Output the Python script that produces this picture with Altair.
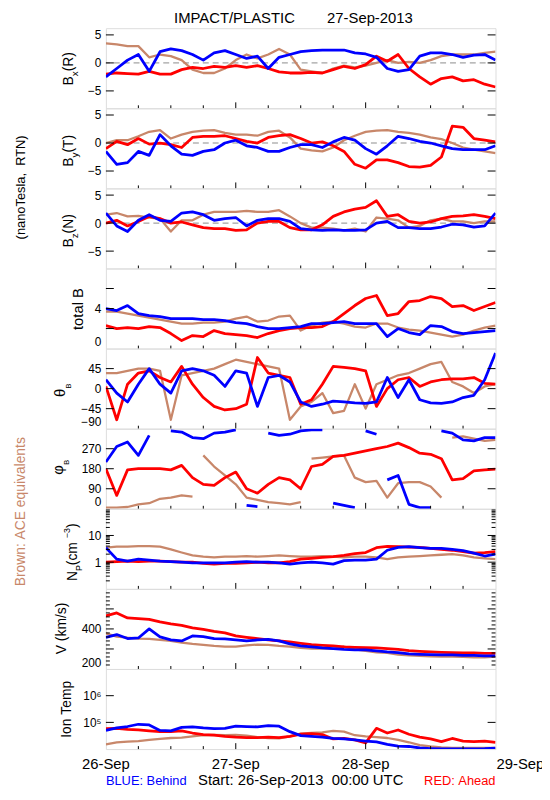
import json
import altair as alt
import pandas as pd

# ---------------- data (2-hour steps, hours since 26-Sep-2013 00:00 UTC) ----------------
HOURS = list(range(0, 73, 2))
X_LABEL_HOURS = [0, 24, 48, 72]
X_LABELS = ["26-Sep", "27-Sep", "28-Sep", "29-Sep"]

bx_blue = [-2.5, -1.0, 0.5, 1.5, -1.5, 2.0, 2.5, 2.2, 1.5, 0.5, 1.8, 2.2, 1.5, 0.8, 1.2, -1.0, 1.0, 1.5, 2.0,
           2.2, 2.3, 2.3, 2.3, 1.8, 1.6, 1.0, -1.0, -1.5, -1.2, 1.2, 1.8, 1.8, 1.5, 1.0, 1.4, 1.5, 0.5]
bx_red = [-2.0, -1.8, -1.9, -2.0, -1.5, -2.0, -2.0, -1.2, -0.8, -1.0, -0.6, -0.8, -0.5, -0.8, -0.5, -1.0, -1.6,
          -1.8, -1.8, -1.7, -1.8, -1.2, -0.6, -1.0, -0.3, 1.2, 0.3, 1.5, -1.0, -2.5, -3.8, -2.8, -2.5, -3.2, -3.0,
          -3.8, -4.3]
bx_ace = [3.5, 3.3, 3.0, 3.0, 1.0, 1.5, 1.2, 0.5, -1.2, -1.8, -1.8, -1.0, 0.5, 1.5, 0.8, 1.5, 2.5, 1.5, -1.2,
          -1.5, -1.8, -1.0, -0.5, -0.8, -0.5, 0.0, 0.5, 0.0, 0.2, 0.0, 0.5, 1.2, 1.5, 1.5, 1.5, 1.8, 2.0]

by_blue = [-1.5, -3.8, -3.5, -1.5, -2.2, 1.5, -0.5, -2.0, -2.2, -1.5, -1.2, 0.0, 0.5, -0.5, -0.8, -1.5, -1.5,
           -0.8, -0.3, -0.3, -0.8, 0.2, 1.0, 0.5, -1.0, -2.0, -0.5, 1.2, 0.8, 0.3, 0.0, -0.5, -1.0, -1.2, -1.2,
           -1.2, -0.5]
by_red = [-1.0, 0.3, -0.3, 0.8, -0.2, 0.0, -0.3, -0.8, 1.0, 1.2, 1.2, 1.3, 0.8, 0.3, 0.0, 1.0, 1.3, 1.5, 0.8,
          0.0, 0.2, -0.5, -1.5, -3.8, -4.5, -3.0, -3.0, -3.5, -4.2, -4.3, -4.0, -2.5, 3.0, 2.8, 0.8, 0.5, 0.2]
by_ace = [0.0, 0.5, 0.5, 1.2, 2.0, 2.3, 0.8, 1.5, 2.0, 2.2, 2.3, 1.8, 1.5, 1.5, 1.3, 2.0, 2.2, 1.0, -1.0, -1.3,
          -1.5, -0.8, 0.5, 1.3, 2.0, 2.2, 2.3, 2.0, 1.8, 1.5, 1.0, 0.7, 0.0, -0.8, -1.2, -1.5, -1.8]

bz_blue = [1.8, -0.5, -1.5, 0.5, 1.5, 0.5, 0.3, 1.8, 2.0, 1.5, 0.5, 0.8, 1.0, -0.5, 0.5, 0.8, 0.8, 0.3, -1.0,
           -1.2, -1.3, -1.2, -1.3, -1.3, -1.2, 0.0, 0.3, -0.8, -0.8, -1.0, -1.0, -0.7, -0.2, -0.3, -0.7, -0.5, 1.8]
bz_red = [0.0, 0.5, -0.5, 0.3, 1.2, 0.8, 0.0, 0.2, -0.3, -0.8, -1.0, -1.0, -1.3, -1.2, 0.0, 0.3, 0.3, -0.8, -1.2,
          -1.2, -0.3, 1.2, 2.0, 2.5, 2.8, 4.0, 1.2, 1.5, 0.3, 0.0, 0.2, 0.8, 1.2, 1.3, 1.5, 1.2, 0.8]
bz_ace = [1.5, 1.8, 1.2, 1.3, 1.0, 0.8, -1.5, 0.5, 0.5, 1.5, 2.0, 2.0, 2.0, 2.2, 2.0, 2.0, 2.3, 1.2, 0.0, -0.8,
          -0.8, -1.0, -1.3, -1.0, -1.5, 1.0, 0.8, 0.5, -0.8, -0.5, 0.5, 0.8, 0.3, 0.3, 0.0, 0.3, 0.3]

bt_blue = [4.0, 3.8, 4.3, 3.5, 3.3, 3.2, 3.0, 3.0, 3.0, 2.9, 2.9, 2.8, 2.6, 2.5, 2.2, 2.0, 2.0, 2.1, 2.2, 2.5,
           2.5, 2.6, 2.7, 2.5, 2.5, 2.5, 1.2, 2.0, 1.6, 1.4, 2.3, 2.2, 1.7, 1.5, 1.6, 1.7, 1.8]
bt_red = [2.3, 2.0, 2.1, 2.0, 2.2, 2.1, 1.5, 0.8, 1.3, 1.2, 1.8, 1.5, 1.4, 1.3, 1.1, 1.5, 1.8, 2.0, 2.1, 2.1,
          2.2, 2.7, 3.5, 4.3, 5.0, 5.3, 3.3, 3.5, 4.7, 4.8, 5.2, 5.0, 4.2, 4.3, 3.8, 4.2, 4.6]
bt_ace = [3.7, 3.7, 3.5, 3.3, 3.1, 2.9, 2.7, 2.5, 2.5, 2.6, 2.6, 2.7, 3.0, 3.2, 2.7, 2.8, 3.2, 3.3, 1.8, 2.3,
          2.6, 2.7, 2.5, 2.2, 2.1, 2.5, 2.5, 2.1, 1.9, 1.8, 1.6, 1.4, 1.2, 1.4, 1.8, 2.1, 2.3]

th_blue = [20, -10, -30, 10, 45, 10, -10, 40, 45, 40, 30, 5, 40, 35, -40, 25, 30, 15, -30, -40, -35, -28, -30,
           -32, -33, -30, 25, -20, 20, -25, -32, -33, -30, -20, -15, 20, 80]
th_red = [5, -70, 10, 35, 40, 25, 15, 50, 10, -20, -40, -48, -45, -35, 70, 35, 30, 25, -35, -25, 10, 50, 48, 45,
          40, -40, 0, 20, 25, 5, 15, 20, 22, 22, 25, 12, 10]
th_ace = [35, 35, 40, 45, 45, 40, -70, 30, 35, 40, 45, 55, 65, 60, 55, 50, 45, -70, -40, -30, -10, -55, -50, 10,
          -45, 10, 20, 30, 35, 45, 55, 60, 15, 5, -10, 5, 10]

ph_blue = [210, 280, 300, 240, 330, 10, 350, 345, 320, 315, 340, 345, 355, 15, 10, 340, 330, 335, 350, 355, 355,
           25, 15, 5, 350, 335, 130, 150, 20, 5, 5, 350, 340, 310, 305, 320, 320]
ph_red = [180, 60, 175, 180, 180, 180, 175, 195, 140, 110, 105, 140, 165, 90, 70, 110, 140, 130, 90, 190, 200,
          235, 240, 250, 260, 270, 280, 295, 275, 250, 245, 225, 130, 135, 170, 175, 178]
ph_ace = [5, 5, 8, 20, 25, 45, 50, 60, 55, 240, 190, 150, 110, 50, 40, 30, 25, 20, 30, 225, 230, 235, 240, 140,
          120, 125, 50, 115, 120, 120, 100, 50, 320, 325, 315, 305, 310]

np_blue = [3.5, 1.3, 1.1, 1.3, 1.2, 1.1, 1.05, 1.0, 0.95, 0.95, 0.95, 0.95, 1.0, 1.05, 1.0, 1.0, 0.95, 0.85, 0.95,
           1.0, 0.95, 0.85, 1.15, 1.2, 1.2, 1.3, 2.8, 3.6, 3.8, 3.5, 3.3, 3.3, 3.0, 2.7, 2.2, 1.7, 2.0]
np_red = [1.0, 1.05, 1.1, 1.05, 1.1, 1.1, 1.05, 1.0, 1.0, 0.9, 0.85, 0.9, 0.9, 0.95, 1.0, 0.95, 0.95, 1.05, 1.3,
          1.4, 1.5, 1.6, 1.8, 2.1, 2.3, 3.5, 3.9, 3.8, 3.7, 3.6, 3.3, 3.0, 2.8, 2.5, 2.2, 2.3, 2.5]
np_ace = [3.5, 3.8, 3.8, 4.0, 4.0, 3.8, 3.0, 2.3, 1.8, 1.6, 1.5, 1.6, 1.6, 1.7, 1.6, 1.7, 1.8, 1.7, 1.6, 1.6,
          1.7, 1.6, 1.5, 1.6, 1.6, 1.5, 1.3, 1.5, 1.6, 1.7, 1.8, 1.9, 2.0, 1.8, 1.5, 1.4, 1.3]

v_blue = [358, 372, 352, 355, 400, 360, 345, 340, 365, 362, 352, 350, 345, 340, 345, 348, 340, 325, 315, 310, 305,
          302, 298, 296, 295, 290, 285, 282, 275, 273, 272, 270, 270, 268, 268, 266, 266]
v_red = [465, 480, 455, 452, 448, 435, 425, 418, 405, 398, 388, 380, 365, 358, 352, 345, 340, 335, 328, 322, 318,
         315, 310, 308, 306, 305, 302, 298, 292, 288, 285, 283, 282, 280, 280, 278, 278]
v_ace = [378, 362, 356, 352, 350, 345, 340, 332, 325, 320, 315, 312, 312, 318, 322, 320, 315, 312, 305, 302, 303,
         300, 312, 298, 290, 283, 280, 272, 268, 265, 263, 262, 262, 260, 258, 258, 262]

t_blue = [50000, 62000, 70000, 85000, 80000, 50000, 48000, 65000, 68000, 62000, 58000, 60000, 72000, 70000, 68000,
          75000, 72000, 45000, 32000, 30000, 28000, 25000, 24000, 22000, 20000, 18500, 15000, 13000, 12500, 11000,
          10500, 10200, 10200, 10100, 10100, 10300, 10800]
t_red = [58000, 60000, 55000, 52000, 48000, 45000, 45000, 48000, 40000, 35000, 33000, 30000, 28000, 27000, 27000,
         28000, 27000, 30000, 36000, 38000, 35000, 24000, 25000, 22000, 17000, 60000, 40000, 52000, 36000, 28000,
         24000, 19000, 25000, 20000, 19000, 20000, 18000]
t_ace = [15000, 18000, 19000, 20000, 22000, 24000, 26000, 27000, 30000, 33000, 34000, 33000, 34000, 32000, 28000,
         26000, 25000, 30000, 38000, 40000, 42000, 48000, 45000, 33000, 30000, 28000, 26000, 22000, 18000, 14000,
         12500, 11500, 11000, 11000, 11000, 11000, 11000]

# ---------------- styling ----------------
W, H = 394, 81
FONT = "Liberation Sans"
BLUE, RED, BROWN = "#0000ff", "#ff0000", "#c8876a"
LW = 2.8

CW = {'B': .667, 'x': .5, 'y': .5, 'z': .5, '(': .333, ')': .333, 'R': .722, 'T': .611, 'N': .722, 'P': .667,
      'c': .5, 'm': .833, '\u00a0': .278, ' ': .278, '\u2212': .584, '3': .556, 'k': .5, '/': .278, 's': .5,
      'V': .667, '\u03b8': .556, '\u03c6': .65, 't': .278, 'o': .556, 'a': .556, 'l': .222, 'I': .278,
      'n': .556, 'e': .556, 'p': .556}


def twidth(txt, size):
    return sum(CW.get(ch, .556) for ch in txt) * size


def xenc():
    return alt.X("h:Q", scale=alt.Scale(domain=[0, 72], nice=False, zero=False), axis=None, title=None)


def yenc(domain, stype, labels, label_expr=None, fmt=None):
    kw = {}
    if label_expr:
        kw["labelExpr"] = label_expr
    if fmt:
        kw["format"] = fmt
    ax = alt.Axis(values=labels, ticks=False, domain=False, grid=False, labelFontSize=12, labelPadding=5,
                  labelFont=FONT, labelColor="black", title=None, labelFlush=True, labelOverlap=False, **kw)
    if stype == "log":
        sc = alt.Scale(domain=domain, type="log", nice=False)
    else:
        sc = alt.Scale(domain=domain, nice=False, zero=False)
    return alt.Y("v:Q", scale=sc, axis=ax, title=None)


def text(txt, x, y, size, angle=0, align="center", baseline="alphabetic", color="black"):
    return alt.Chart(pd.DataFrame({"t": [txt]})).mark_text(
        font=FONT, fontSize=size, angle=angle, align=align, baseline=baseline, color=color
    ).encode(text="t:N", x=alt.value(x), y=alt.value(y))


def rot_title(pieces, center_y, base_x):
    total = sum(twidth(t, s) for t, s, _ in pieces)
    y = center_y + total / 2
    out = []
    for t, s, dx in pieces:
        out.append(text(t, base_x + dx, y, s, angle=270, align="left"))
        y -= twidth(t, s)
    return out


def segs(vals):
    out, s = [], 0
    for i, v in enumerate(vals):
        if i > 0 and abs(v - vals[i - 1]) > 180:
            s += 1
        out.append(s)
    return out


def series(vals, color, width, x, y, wrap=False):
    df = pd.DataFrame({"h": HOURS, "v": vals})
    enc = dict(x=x, y=y)
    if wrap:
        df["seg"] = segs(vals)
        enc["detail"] = "seg:N"
    return alt.Chart(df).mark_line(color=color, strokeWidth=width, clip=True, strokeJoin="round").encode(**enc)


def yticks(values, length, y):
    df = pd.DataFrame({"v": values})
    return [
        alt.Chart(df).mark_rule(color="black", strokeWidth=1).encode(y=y, x=alt.value(0), x2=alt.value(length)),
        alt.Chart(df).mark_rule(color="black", strokeWidth=1).encode(y=y, x=alt.value(W - length), x2=alt.value(W)),
    ]


MINOR_H = [6, 12, 18, 30, 36, 42, 54, 60, 66]
MAJOR_H = [24, 48]


def xticks(x):
    return [
        alt.Chart(pd.DataFrame({"h": MINOR_H})).mark_rule(color="black", strokeWidth=1).encode(
            x=x, y=alt.value(H), y2=alt.value(H - 3)),
        alt.Chart(pd.DataFrame({"h": MAJOR_H})).mark_rule(color="black", strokeWidth=1).encode(
            x=x, y=alt.value(H), y2=alt.value(H - 6)),
    ]


def xlabels(x):
    df = pd.DataFrame({"h": X_LABEL_HOURS, "t": X_LABELS})
    inner = df.iloc[:-1]
    last = df.iloc[-1:]
    return [
        alt.Chart(inner).mark_text(font=FONT, fontSize=15, baseline="top", align="center", color="black").encode(
            x=x, y=alt.value(H + 8), text="t:N"),
        alt.Chart(last).mark_text(font=FONT, fontSize=15, baseline="top", align="left", dx=1, color="black").encode(
            x=x, y=alt.value(H + 8), text="t:N"),
    ]


def panel(blue, red, ace, domain, labels, major, title_layers, stype="linear", minor=None, zero=False,
          wrap=False, bottom=False, label_expr=None, fmt=None, extra=None):
    x = xenc()
    y = yenc(domain, stype, labels, label_expr, fmt)
    layers = []
    if zero:
        layers.append(alt.Chart(pd.DataFrame({"v": [0]})).mark_rule(
            color="#8c8c8c", strokeDash=[6, 4], strokeWidth=1).encode(y=y))
    layers.append(series(ace, BROWN, 2.3, x, y, wrap))
    layers.append(series(red, RED, LW, x, y, wrap))
    layers.append(series(blue, BLUE, LW, x, y, wrap))
    layers += yticks(major, 8, y)
    if minor:
        layers += yticks(minor, 4, y)
    layers += xticks(x)
    if bottom:
        layers += xlabels(x)
    layers += title_layers
    if extra:
        layers += extra
    return alt.layer(*layers).properties(width=W, height=H)


SUB = 10
p1 = panel(bx_blue, bx_red, bx_ace, [-8.1, 6.2], [-5, 0, 5], [-5, 0, 5],
           rot_title([("B", 14, 0), ("x", SUB, 5), ("(R)", 14, 0)], 41, -33), zero=True,
           extra=[text("IMPACT/PLASTIC", 130, -5, 15), text("27-Sep-2013", 267, -5, 15)])
p2 = panel(by_blue, by_red, by_ace, [-8.1, 6.2], [-5, 0, 5], [-5, 0, 5],
           rot_title([("B", 14, 0), ("y", SUB, 5), ("(T)", 14, 0)], 43, -33), zero=True,
           extra=[text("(nanoTesla,\u00a0\u00a0RTN)", -86, 80, 13, angle=270, baseline="middle")])
p3 = panel(bz_blue, bz_red, bz_ace, [-8.1, 6.2], [-5, 0, 5], [-5, 0, 5],
           rot_title([("B", 14, 0), ("z", SUB, 5), ("(N)", 14, 0)], 43, -33), zero=True)
p4 = panel(bt_blue, bt_red, bt_ace, [0, 8], [0, 4], [2, 4, 6],
           rot_title([("total\u00a0B", 15, 0)], 41, -23))
p5 = panel(th_blue, th_red, th_ace, [-90, 90], [-90, -45, 0, 45], [-45, 0, 45],
           rot_title([("\u03b8", 15, 0), ("B", 8, 6)], 42, -41))
p6 = panel(ph_blue, ph_red, ph_ace, [0, 360], [0, 90, 180, 270], [90, 180, 270],
           rot_title([("\u03c6", 15, 0), ("B", 8, 6)], 39, -43), wrap=True)

np_minor = [m * d for d in (0.1, 1, 10) for m in range(2, 10)]
p7 = panel(np_blue, np_red, np_ace, [0.1, 100], [1, 10], [1, 10],
           rot_title([("N", 14, 0), ("P", 9, 5), ("\u00a0(cm", 14, 0), ("\u22123", 9, -7), (")", 14, 0)], 44, -29),
           stype="log", minor=np_minor, fmt="d",
           extra=[text("Brown:\u00a0ACE\u00a0equivalents", -86, 3, 14, angle=270, baseline="middle", color=BROWN)])

v_minor = [v for v in range(220, 600, 20) if v % 100 != 0]
p8 = panel(v_blue, v_red, v_ace, [200, 600], [200, 400], [300, 400, 500],
           rot_title([("V\u00a0(km/s)", 14, 0)], 40, -40), minor=v_minor)

T_LABELS = ["10\u2075", "10\u2076"]
t_expr = "datum.value < 300000 ? " + json.dumps(T_LABELS[0]) + " : " + json.dumps(T_LABELS[1])
p9 = panel(t_blue, t_red, t_ace, [1e4, 1e7], [1e5, 1e6], [1e5, 1e6],
           rot_title([("Ion\u00a0Temp", 14, 0)], 40, -35), stype="log", bottom=True, label_expr=t_expr,
           extra=[text("BLUE:\u00a0Behind", 0, 117, 13, align="left", color=BLUE),
                  text("Start:\u00a026-Sep-2013\u00a0\u00a000:00\u00a0UTC", W / 2, 117, 15),
                  text("RED:\u00a0Ahead", W, 117, 13, align="right", color=RED)])

chart = alt.vconcat(p1, p2, p3, p4, p5, p6, p7, p8, p9, spacing=0, bounds="flush").properties(
    padding={"left": 5, "top": -2, "right": -3, "bottom": 0}
).configure_view(stroke="black", strokeWidth=1).configure(background="white")

chart.save("out.html", embed_options={"renderer": "svg", "actions": False})
